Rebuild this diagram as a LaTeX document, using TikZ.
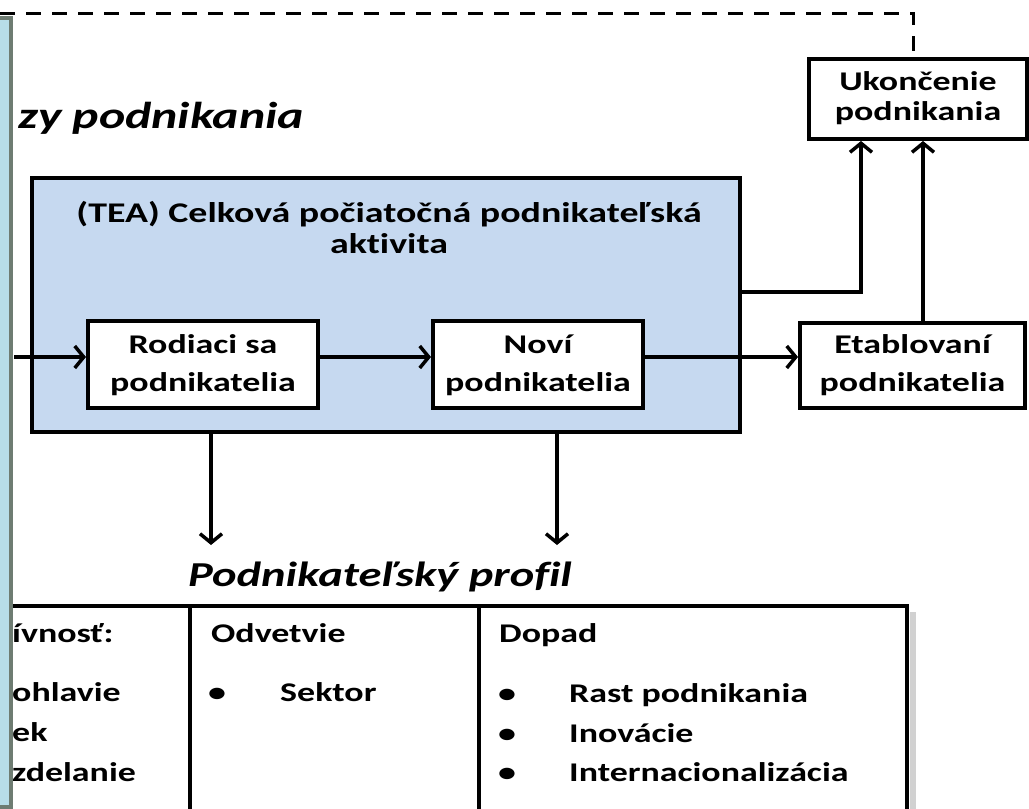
\documentclass[tikz,border=0pt]{standalone}
\usepackage{fontspec}
\setmainfont{Carlito}[Ligatures=NoCommon]
\usepackage{graphicx}
\usetikzlibrary{arrows.meta}

\definecolor{teablue}{HTML}{C6D9F0}
\definecolor{panelblue}{HTML}{B7DDE8}
\definecolor{panelgrey}{HTML}{6E7C72}

% text in the reference is set wide
\newcommand{\widetext}[1]{\scalebox{1.33}[1]{\begin{tabular}{@{}c@{}}#1\end{tabular}}}

\begin{document}
\begin{tikzpicture}[x=1pt, y=-1pt,
    box/.style={draw, line width=4pt, fill=white, inner sep=0pt,
        font=\bfseries\fontsize{27}{38}\selectfont},
    arr/.style={line width=3.5pt, -{Straight Barb[length=9pt,width=22pt]}},
    cell/.style={anchor=base west, inner sep=0pt, font=\bfseries\fontsize{27}{30}\selectfont},
    heading/.style={inner sep=0pt, font=\bfseries\itshape\fontsize{37.5}{40}\selectfont}
]
    \clip (0,0) rectangle (1029,809);
    \fill[white] (0,0) rectangle (1029,809);

    % TEA block
    \node[draw, line width=4pt, fill=teablue, minimum width=708pt, minimum height=254pt] (tea) at (386,305) {};
    \node[inner sep=0pt, font=\bfseries\fontsize{28.5}{31}\selectfont] (teatitle) at (389,232)
        {\widetext{(TEA) Celková počiatočná podnikateľská\\aktivita}};

    \node[box, minimum width=230pt, minimum height=87pt] (rodiaci) at (203,364.5) {\widetext{Rodiaci sa\\podnikatelia}};
    \node[box, minimum width=210pt, minimum height=87pt] (novi) at (538,364.5) {\widetext{Noví\\podnikatelia}};
    \node[box, minimum width=225pt, minimum height=85pt] (etab) at (912.5,365) {\widetext{Etablovaní\\podnikatelia}};
    \node[box, minimum width=218pt, minimum height=80pt, font=\bfseries\fontsize{27}{30}\selectfont] (ukoncenie) at (918,99)
        {\widetext{Ukončenie\\podnikania}};

    % headings
    \node[heading, anchor=base west] (fazy) at (18,127) {\widetext{zy podnikania}};
    \node[heading, anchor=base, font=\bfseries\itshape\fontsize{35}{40}\selectfont] (profil) at (380,585)
        {\widetext{Podnikateľský profil}};

    % connectors
    \coordinate (entry) at (14,357);
    \coordinate (tip1) at (211,545);
    \coordinate (tip2) at (557,545);
    \coordinate (dstart) at (0,13);
    \coordinate (dturn) at (913,13);

    \draw[line width=3pt, dash pattern=on 15pt off 11pt] (dstart) -- (dturn) -- (dturn |- ukoncenie.north);
    \draw[arr] (entry) -- (entry -| rodiaci.west);
    \draw[arr] (rodiaci.east |- entry) -- (novi.west |- entry);
    \draw[arr] (novi.east |- entry) -- (etab.west |- entry);
    \draw[arr] ([yshift=13pt]tea.east) -| ([xshift=-57pt]ukoncenie.south);
    \draw[arr] ([xshift=10.5pt]etab.north) -- ([xshift=10.5pt]etab.north |- ukoncenie.south);
    \draw[arr] (tea.south -| tip1) -- (tip1);
    \draw[arr] (tea.south -| tip2) -- (tip2);

    % profile table
    \fill[black!18] (910,612) rectangle (916,830);
    \draw[line width=4pt] (-10,606) -- (907,606) -- (907,830);
    \draw[line width=4pt] (190,606) -- (190,830);
    \draw[line width=4pt] (479,606) -- (479,830);

    \node[cell] (demo) at (12,643) {\widetext{ívnosť:}};
    \node[cell] (demo1) at (12,702) {\widetext{ohlavie}};
    \node[cell] (demo2) at (12,742) {\widetext{ek}};
    \node[cell] (demo3) at (12,782) {\widetext{zdelanie}};

    \node[cell] (odvetvie) at (211,643) {\widetext{Odvetvie}};
    \node[cell, anchor=base] (bsektor) at (217,702) {\widetext{•}};
    \node[cell] (sektor) at (280,702) {\widetext{Sektor}};

    \node[cell] (dopad) at (499,643) {\widetext{Dopad}};
    \foreach \t [count=\i] in {Rast podnikania, Inovácie, Internacionalizácia} {
        \node[cell, anchor=base] (bdopad\i) at (507,{703+39.5*(\i-1)}) {\widetext{•}};
        \node[cell] (dopad\i) at (569,{703+39.5*(\i-1)}) {\widetext{\t}};
    }

    % side panel
    \draw[panelgrey, line width=4pt, fill=panelblue] (-20,18) rectangle (10.5,807);
\end{tikzpicture}
\end{document}
